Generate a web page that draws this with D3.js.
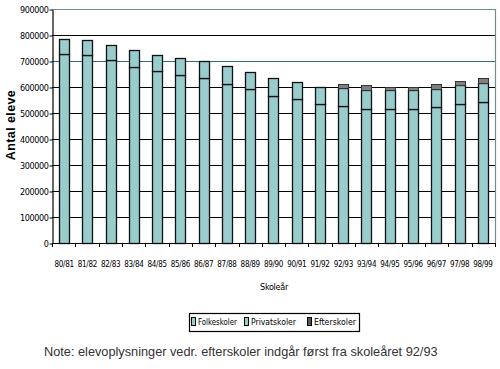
<!DOCTYPE html>
<html>
<head>
<meta charset="utf-8">
<script src="https://cdn.jsdelivr.net/npm/d3@7/dist/d3.min.js"></script>
<style>
html,body{margin:0;padding:0;background:#fff;}
svg{display:block;}
</style>
</head>
<body>
<svg id="chart" width="500" height="369"></svg>
<script>
const categories = ["80/81","81/82","82/83","83/84","84/85","85/86","86/87","87/88","88/89","89/90","90/91","91/92","92/93","93/94","94/95","95/96","96/97","97/98","98/99"];
const folkeskoler = [726000,722000,703000,677000,663000,646000,633000,613000,593000,565000,552000,535000,527000,517000,517000,517000,524000,533000,543000];
const privatskoler = [58000,59000,59000,65000,60000,64000,67000,69000,63000,71000,66000,65000,70000,71000,70000,70000,69000,74000,74000];
const efterskoler = [0,0,0,0,0,0,0,0,0,0,0,0,16000,18000,13000,13000,20000,17000,19000];
const yTicks = [0,100000,200000,300000,400000,500000,600000,700000,800000,900000];
const seriesNames = ["Folkeskoler","Privatskoler","Efterskoler"];
const yTitle = "Antal eleve";
const xTitle = "Skoleår";
const note = "Note: elevoplysninger vedr. efterskoler indgår først fra skoleåret 92/93";

const svg = d3.select("#chart");
const L = 52, R = 495, T = 9, B = 243;
const condensed = "'DejaVu Sans Condensed','DejaVu Sans',sans-serif";

const x = d3.scaleBand().domain(categories).range([L, R]).paddingInner(0.56).paddingOuter(0.3);
const y = d3.scaleLinear().domain([0, 900000]).range([B, T]);

// gridlines
svg.append("g").selectAll("line").data(yTicks.filter(d => d > 0)).join("line")
  .attr("x1", L).attr("x2", R)
  .attr("y1", d => Math.round(y(d)) + 0.5).attr("y2", d => Math.round(y(d)) + 0.5)
  .attr("stroke", d => d === 900000 ? "#6f8f8f" : (d === 700000 ? "#2f6f6f" : "#000"))
  .attr("stroke-width", 1.2);
// right frame
svg.append("line").attr("x1", R + 0.5).attr("x2", R + 0.5).attr("y1", T).attr("y2", B)
  .attr("stroke", "#6f8f8f").attr("stroke-width", 1.2);

// stacked bars
const table = categories.map((c, i) => ({cat: c, Folkeskoler: folkeskoler[i], Privatskoler: privatskoler[i], Efterskoler: efterskoler[i]}));
const stack = d3.stack().keys(seriesNames)(table);
const fills = {Folkeskoler: "#99cccc", Privatskoler: "#99cccc", Efterskoler: "#808080"};
const strokes = {Folkeskoler: "#111", Privatskoler: "#111", Efterskoler: "#333"};
stack.forEach(layer => {
  svg.append("g").selectAll("rect").data(layer.filter(d => d[1] - d[0] > 0)).join("rect")
    .attr("x", d => Math.round(x(d.data.cat)) + 0.5)
    .attr("y", d => Math.round(y(d[1])) + 0.5)
    .attr("width", Math.round(x.bandwidth()))
    .attr("height", d => Math.round(y(d[0])) - Math.round(y(d[1])))
    .attr("fill", fills[layer.key])
    .attr("stroke", strokes[layer.key])
    .attr("stroke-width", layer.key === "Efterskoler" ? 1 : 1.3);
});

// Y axis
const yAxis = svg.append("g").attr("transform", `translate(${L + 0.5},0.5)`)
  .call(d3.axisLeft(y).tickValues(yTicks).tickSize(3).tickSizeOuter(0).tickFormat(d3.format("d")));
yAxis.select(".domain").attr("stroke", "#000").attr("stroke-width", 1.2);
yAxis.selectAll("line").attr("stroke", "#000");
yAxis.selectAll("text").attr("font-family", condensed).attr("font-size", 9).attr("fill", "#000")
  .attr("letter-spacing", "-0.4").attr("x", -4);

// X axis
const xAxis = svg.append("g").attr("transform", `translate(0,${B + 0.5})`)
  .call(d3.axisBottom(x).tickSize(0).tickSizeOuter(0));
xAxis.select(".domain").attr("stroke", "#000").attr("stroke-width", 1.2).attr("d", `M${L},0H${R}`);
xAxis.selectAll("text").attr("font-family", condensed).attr("font-size", 8).attr("fill", "#000")
  .attr("letter-spacing", "-0.3").attr("dy", "0").attr("y", 23);
// category boundary ticks
svg.append("g").selectAll("line").data(d3.range(categories.length + 1)).join("line")
  .attr("x1", i => Math.round(L + i * (R - L) / categories.length) + 0.5)
  .attr("x2", i => Math.round(L + i * (R - L) / categories.length) + 0.5)
  .attr("y1", B).attr("y2", B + 4).attr("stroke", "#000");

// axis titles
svg.append("text").attr("transform", `translate(15,125) rotate(-90)`)
  .attr("text-anchor", "middle").attr("font-family", "'Liberation Sans',Arial,sans-serif")
  .attr("font-weight", "bold").attr("font-size", 12.5).attr("letter-spacing", "0.4").attr("fill", "#000").text(yTitle);
svg.append("text").attr("x", 274).attr("y", 290).attr("text-anchor", "middle")
  .attr("font-family", condensed).attr("font-size", 9).attr("letter-spacing", "-0.3").attr("fill", "#000").text(xTitle);

// legend
const lg = svg.append("g");
lg.append("rect").attr("x", 189.5).attr("y", 313.5).attr("width", 170).attr("height", 18)
  .attr("fill", "#fff").attr("stroke", "#000").attr("stroke-width", 1.2);
const legX = [191, 244, 307];
const legW = [39, 45, 42];
const legSw = {Folkeskoler: ["#99cccc", "#000"], Privatskoler: ["#99cccc", "#000"], Efterskoler: ["#555", "#000"]};
seriesNames.forEach((s, i) => {
  lg.append("rect").attr("x", legX[i] + 0.5).attr("y", 317.5).attr("width", 4).attr("height", 8)
    .attr("fill", legSw[s][0]).attr("stroke", legSw[s][1]);
  lg.append("text").attr("x", legX[i] + 7).attr("y", 325).attr("font-family", condensed)
    .attr("font-size", 8).attr("fill", "#000")
    .attr("textLength", legW[i]).attr("lengthAdjust", "spacingAndGlyphs").text(s);
});

// note
const nt = svg.append("text").attr("x", 44).attr("y", 356)
  .attr("font-family", "'Liberation Sans',Arial,sans-serif").attr("font-size", 11.5).attr("fill", "#333").text(note);
const w = nt.node().getComputedTextLength();
nt.attr("font-size", 11.5 * 394 / w);
</script>
</body>
</html>
